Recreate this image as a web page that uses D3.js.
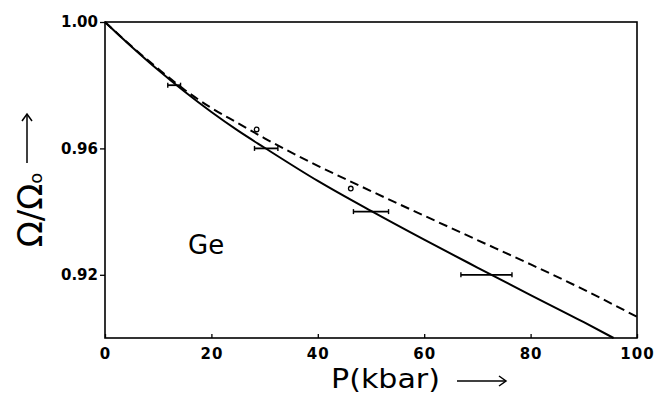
<!DOCTYPE html>
<html>
<head>
<meta charset="utf-8">
<script src="https://cdn.jsdelivr.net/npm/d3@7"></script>
<style>
  html, body { margin: 0; padding: 0; background: #fff; }
  svg { display: block; }
</style>
</head>
<body>
<script>
// ---- data ----
const solidP = [0, 5, 10, 15, 20, 25, 30, 40, 50, 60, 70, 80, 90, 95.6];
const solidV = [1.000, 0.9922, 0.9848, 0.9779, 0.9715, 0.9656, 0.9602, 0.9497, 0.9402, 0.9311, 0.9223, 0.9136, 0.9050, 0.900];
const dashP = [0, 5, 10, 15, 20, 25, 30, 40, 50, 60, 70, 80, 90, 100];
const dashV = [1.000, 0.9923, 0.9852, 0.9785, 0.9728, 0.968, 0.9632, 0.9545, 0.9465, 0.9387, 0.9310, 0.9233, 0.9153, 0.9067];
const errP = [13, 30.3, 50, 71.7];
const errV = [0.98, 0.96, 0.94, 0.92];
const errHalf = [1.2, 2.2, 3.3, 4.8];
const circP = [28.5, 46.2];
const circV = [0.966, 0.9473];
const xTicks = [0, 20, 40, 60, 80, 100];
const yTicks = [0.92, 0.96, 1.00];
const xTickLabels = ["0", "20", "40", "60", "80", "100"];
const yTickLabels = ["0.92", "0.96", "1.00"];

const W = 672, H = 399;
const m = {left: 105, top: 22, right: 35, bottom: 61};
const iw = W - m.left - m.right, ih = H - m.top - m.bottom;

const svg = d3.select("body").append("svg").attr("width", W).attr("height", H);
const g = svg.append("g").attr("transform", `translate(${m.left},${m.top})`);

const x = d3.scaleLinear().domain([0, 100]).range([0, iw]);
const y = d3.scaleLinear().domain([0.90, 1.00]).range([ih, 0]);

// frame
g.append("rect").attr("x", 0).attr("y", 0).attr("width", iw).attr("height", ih)
  .attr("fill", "none").attr("stroke", "#000").attr("stroke-width", 1.6);

// x axis
const xAxis = d3.axisBottom(x).tickValues(xTicks).tickSize(-4).tickPadding(10)
  .tickFormat((d, i) => xTickLabels[i]);
const gx = g.append("g").attr("transform", `translate(0,${ih})`).call(xAxis);
gx.select(".domain").remove();
gx.selectAll(".tick line").attr("stroke", "#000").attr("stroke-width", 1.3);
gx.selectAll(".tick text").attr("font-family", "DejaVu Sans").attr("font-weight", "bold")
  .attr("font-size", 15).attr("fill", "#000").attr("letter-spacing", 1);

// y axis
const yAxis = d3.axisLeft(y).tickValues(yTicks).tickSize(5).tickPadding(2)
  .tickFormat((d, i) => yTickLabels[i]);
const gy = g.append("g").call(yAxis);
gy.select(".domain").remove();
gy.selectAll(".tick line").attr("stroke", "#000").attr("stroke-width", 1.3);
gy.selectAll(".tick text").attr("font-family", "DejaVu Sans").attr("font-weight", "bold")
  .attr("font-size", 15).attr("fill", "#000");

// curves
const line = d3.line().x(d => x(d[0])).y(d => y(d[1])).curve(d3.curveMonotoneX);
g.append("path").datum(dashP.map((p, i) => [p, dashV[i]]))
  .attr("d", line).attr("fill", "none").attr("stroke", "#000")
  .attr("stroke-width", 2).attr("stroke-dasharray", "9,5");
g.append("path").datum(solidP.map((p, i) => [p, solidV[i]]))
  .attr("d", line).attr("fill", "none").attr("stroke", "#000").attr("stroke-width", 2);

// error bars
errP.forEach((p, i) => {
  const eg = g.append("g").attr("stroke", "#000").attr("stroke-width", 1.8);
  eg.append("line").attr("x1", x(p - errHalf[i])).attr("x2", x(p + errHalf[i]))
    .attr("y1", y(errV[i])).attr("y2", y(errV[i]));
  [p - errHalf[i], p + errHalf[i]].forEach(e => {
    eg.append("line").attr("x1", x(e)).attr("x2", x(e))
      .attr("y1", y(errV[i]) - 2.5).attr("y2", y(errV[i]) + 2.5).attr("stroke-width", 1.4);
  });
});

// open circles
g.selectAll("circle.pt").data(circP.map((p, i) => [p, circV[i]])).enter()
  .append("circle").attr("class", "pt")
  .attr("cx", d => x(d[0])).attr("cy", d => y(d[1])).attr("r", 2.3)
  .attr("fill", "#fff").attr("stroke", "#000").attr("stroke-width", 1.3);

// "Ge" label
svg.append("text").attr("x", 188).attr("y", 254).text("Ge")
  .attr("font-family", "DejaVu Sans").attr("font-size", 26).attr("fill", "#000");

// x-axis title and arrow
svg.append("text").attr("x", 331).attr("y", 388).text("P(kbar)")
  .attr("font-family", "DejaVu Sans").attr("font-size", 27).attr("fill", "#000")
  .attr("textLength", 109).attr("lengthAdjust", "spacingAndGlyphs");
const ax = svg.append("g").attr("stroke", "#000").attr("stroke-width", 1.5).attr("fill", "none");
ax.append("line").attr("x1", 457).attr("x2", 506).attr("y1", 381).attr("y2", 381);
ax.append("polyline").attr("points", "499,376 506,381 499,386");

// y-axis title and arrow
const yt = svg.append("text").attr("transform", "translate(42,210) rotate(-90)")
  .attr("text-anchor", "middle").attr("font-family", "DejaVu Sans").attr("font-size", 34)
  .attr("fill", "#000");
yt.append("tspan").text("Ω/Ω");
yt.append("tspan").text("o").attr("font-size", 18);
ax.append("line").attr("x1", 27).attr("x2", 27).attr("y1", 163).attr("y2", 114);
ax.append("polyline").attr("points", "22,121 27,114 32,121");
</script>
</body>
</html>
